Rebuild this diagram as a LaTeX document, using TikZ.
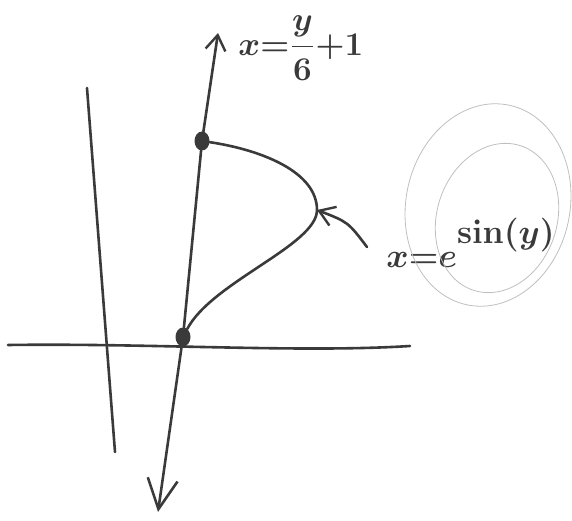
\documentclass[tikz,border=0pt]{standalone}
\usetikzlibrary{arrows.meta,shapes.geometric}
\definecolor{inkc}{HTML}{3A3A3A}
\begin{document}
\begin{tikzpicture}[x=1pt,y=-1pt,
  ink/.style={draw=inkc, line width=2.6pt, line cap=round, line join=round},
  faint/.style={draw=gray!50, line width=0.8pt},
  dotnode/.style={ellipse, fill=inkc, inner sep=0pt, minimum width=15pt, minimum height=19pt},
  lbl/.style={text=inkc, inner sep=0pt, font=\Large\boldmath, transform shape},
  smallbarb/.style={-{Straight Barb[length=15pt,width=20pt,line width=2.4pt]}},
  bigbarb/.style={-{Straight Barb[length=30pt,width=30pt,line width=2.6pt]}}
]
\useasboundingbox (0,0) rectangle (572,521);
% left vertical line
\coordinate (vt) at (87,88);
\coordinate (vb) at (115,452);
\draw[ink] (vt) -- (vb);
% horizontal axis
\coordinate (xl) at (8,345);
\coordinate (xr) at (410,346);
\draw[ink] (xl) .. controls (150,343) and (300,353) .. (xr);
% points
\node[dotnode] (A) at (202,141) {};
\node[dotnode] (B) at (183,337) {};
% oblique axis
\coordinate (ytop) at (218,33);
\coordinate (ybot) at (158,512);
\draw[ink, smallbarb] (A) -- (ytop);
\draw[ink] (A) -- (B);
\draw[ink, bigbarb] (B) -- (ybot);
% curve
\coordinate (V) at (317,210);
\draw[ink] (A) .. controls (262,150) and (317,172) .. (V)
           .. controls (317,245) and (212,282) .. (B);
% pointer arrow
\coordinate (tail) at (367,247);
\draw[ink, smallbarb] (tail) .. controls (348,222) .. (V);
% labels
\node[lbl, scale=2.3, anchor=west] (L1) at (238,48) {$x{=}\displaystyle\frac{y}{6}{+}1$};
\node[lbl, scale=2.35, anchor=base west] (L2) at (386,267) {$x{=}e^{\raisebox{0.8ex}{\boldmath$\sin(y)$}}$};
% circles around the exponent
\draw[faint, rotate around={-12:(488,205)}] (488,205) ellipse [x radius=82pt, y radius=102pt];
\draw[faint, rotate around={-18:(497,218)}] (497,218) ellipse [x radius=60pt, y radius=76pt];
\end{tikzpicture}
\end{document}
